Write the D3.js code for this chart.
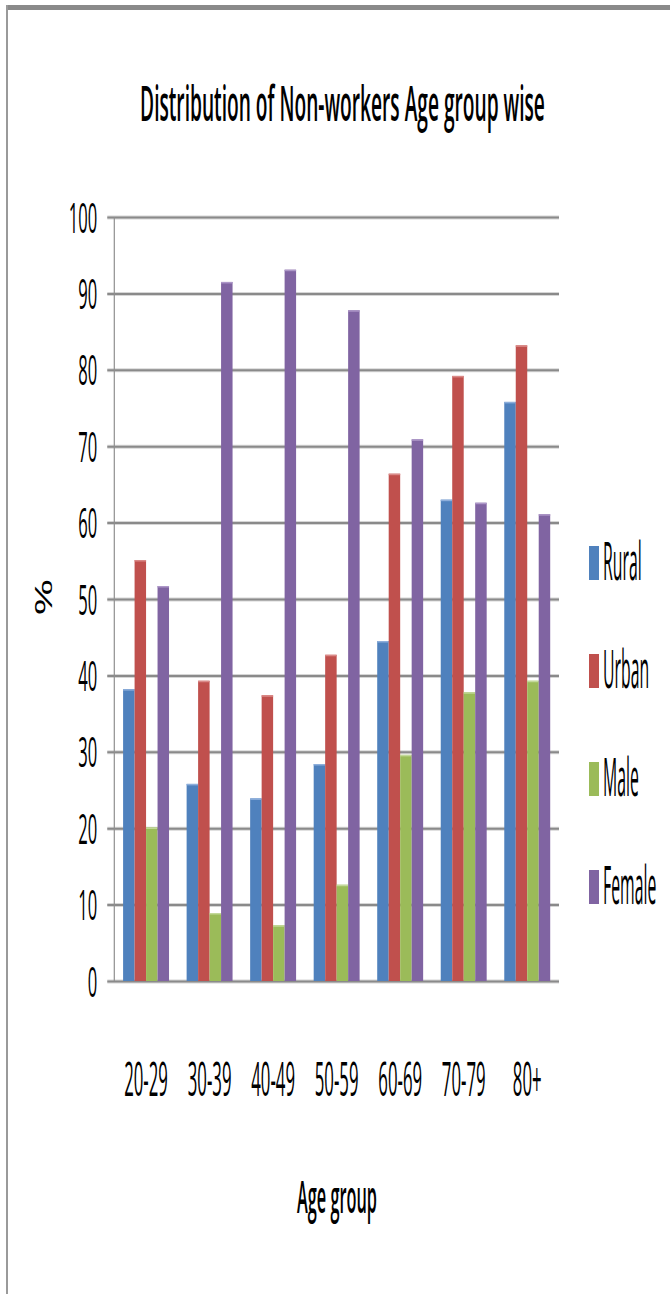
<!DOCTYPE html>
<html>
<head>
<meta charset="utf-8">
<script src="https://cdn.jsdelivr.net/npm/d3@7"></script>
<style>
  html, body { margin: 0; padding: 0; background: #ffffff; }
  svg { display: block; }
  text { font-family: "Open Sans", "DejaVu Sans", sans-serif; fill: #000; }
</style>
</head>
<body>
<svg id="chart" width="670" height="1294"></svg>
<script>
// Share of non-workers (%) by age group
const ageGroups = ["20-29", "30-39", "40-49", "50-59", "60-69", "70-79", "80+"];
const seriesNames = ["Rural", "Urban", "Male", "Female"];
const rural  = [38.2, 25.8, 23.9, 28.4, 44.5, 63.0, 75.8];
const urban  = [55.1, 39.3, 37.4, 42.7, 66.4, 79.2, 83.2];
const male   = [20.1,  8.9,  7.3, 12.6, 29.6, 37.8, 39.3];
const female = [51.7, 91.5, 93.1, 87.8, 70.9, 62.6, 61.1];
const yTicks = [0, 10, 20, 30, 40, 50, 60, 70, 80, 90, 100];
const titleText = "Distribution of Non-workers Age group wise";
const xTitle = "Age group";
const yTitle = "%";

const seriesValues = [rural, urban, male, female];
const colors = ["#4F81BD", "#C0504D", "#9BBB59", "#8064A2"];
const highlights = ["#8DAEDB", "#DA8A88", "#C3D99A", "#AD97C8"];

const svg = d3.select("#chart");
const plot = { left: 114.3, right: 559, top: 217, bottom: 981 };

// frame: heavy top rule and thin left rule
svg.append("rect").attr("x", 6).attr("y", 5).attr("width", 664).attr("height", 5).attr("fill", "#8a8a8a");
svg.append("rect").attr("x", 6).attr("y", 5).attr("width", 2).attr("height", 1289).attr("fill", "#9a9a9a");

const x0 = d3.scaleBand().domain(ageGroups).range([plot.left, plot.right]).padding(0);
const x1 = d3.scaleBand().domain(seriesNames).range([0, x0.bandwidth()])
  .paddingInner(0).paddingOuter(0.766);
const y = d3.scaleLinear().domain([0, 100]).range([plot.bottom, plot.top]);

// stretched-text helper: scale a text horizontally/vertically around its anchor point
function stretched(parent, str, x, yBase, opt) {
  const g = parent.append("g");
  const t = g.append("text").text(str)
    .attr("font-size", opt.size)
    .attr("font-weight", opt.weight || 400)
    .attr("text-anchor", opt.anchor || "start");
  let sx = opt.sx;
  if (opt.width) sx = opt.width / t.node().getComputedTextLength();
  g.attr("transform", `translate(${x},${yBase}) scale(${sx},${opt.sy})`);
  return g;
}

// y axis with gridlines extending past the axis as tick marks
const yAxis = d3.axisLeft(y).tickValues(yTicks).tickSize(0).tickPadding(0);
const gy = svg.append("g").attr("transform", `translate(${plot.left},0)`).call(yAxis);
gy.select(".domain").remove();
gy.selectAll(".tick line").remove();
gy.selectAll(".tick").insert("line", ":first-child")
  .attr("x1", -7).attr("x2", plot.right - plot.left)
  .attr("stroke", "#d6d6d6").attr("stroke-width", 4);
gy.selectAll(".tick").insert("line", "text")
  .attr("x1", -7).attr("x2", plot.right - plot.left)
  .attr("stroke", "#8a8a8a").attr("stroke-width", 2);
gy.selectAll(".tick text")
  .attr("x", 0).attr("dy", 0)
  .attr("font-family", "Open Sans")
  .attr("font-size", 20)
  .attr("fill", "#111")
  .attr("text-anchor", "end")
  .attr("transform", "translate(-17,15) scale(0.83,2.1)");

// vertical axis line
svg.append("line")
  .attr("x1", plot.left).attr("x2", plot.left)
  .attr("y1", plot.top).attr("y2", plot.bottom)
  .attr("stroke", "#8f8f8f").attr("stroke-width", 1.2);

// bars
const groups = svg.append("g").selectAll("g")
  .data(ageGroups)
  .join("g")
  .attr("transform", d => `translate(${x0(d)},0)`);

groups.each(function(cat, ci) {
  const g = d3.select(this);
  seriesNames.forEach((s, si) => {
    const v = seriesValues[si][ci];
    g.append("rect")
      .attr("x", x1(s))
      .attr("y", y(v))
      .attr("width", x1.bandwidth())
      .attr("height", y(0) - y(v))
      .attr("fill", colors[si]);
    g.append("line")
      .attr("x1", x1(s)).attr("x2", x1(s) + x1.bandwidth())
      .attr("y1", y(v) + 0.75).attr("y2", y(v) + 0.75)
      .attr("stroke", highlights[si]).attr("stroke-width", 1.5);
  });
});

// x axis labels
const xAxis = d3.axisBottom(x0).tickSize(0).tickPadding(0);
const gx = svg.append("g").attr("transform", `translate(0,${plot.bottom})`).call(xAxis);
gx.select(".domain").remove();
gx.selectAll(".tick text")
  .attr("y", 0).attr("dy", 0)
  .attr("font-family", "Open Sans")
  .attr("font-size", 20)
  .attr("fill", "#111")
  .attr("text-anchor", "middle")
  .attr("transform", `translate(0,${1096 - plot.bottom}) scale(0.84,2.35)`);

// title
stretched(svg, titleText, 342.5, 121, { size: 20, anchor: "middle", width: 405, sy: 2.4, weight: 600 });

// axis titles
stretched(svg, xTitle, 337, 1213, { size: 20, anchor: "middle", width: 80, sy: 2.25, weight: 600 });
svg.append("g")
  .attr("transform", "translate(43.5,597) scale(1.2,2.26) rotate(-90)")
  .append("text")
  .attr("text-anchor", "middle")
  .attr("dy", "0.36em")
  .attr("font-size", 20)
  .text(yTitle);

// legend
const legend = svg.append("g");
seriesNames.forEach((s, i) => {
  const base = 580 + i * 108;
  legend.append("rect")
    .attr("x", 589).attr("y", base - 34)
    .attr("width", 10).attr("height", 34)
    .attr("fill", colors[i]);
  stretched(legend, s, 603, base, { size: 20, sx: 0.79, sy: 2.66 });
});
</script>
</body>
</html>
